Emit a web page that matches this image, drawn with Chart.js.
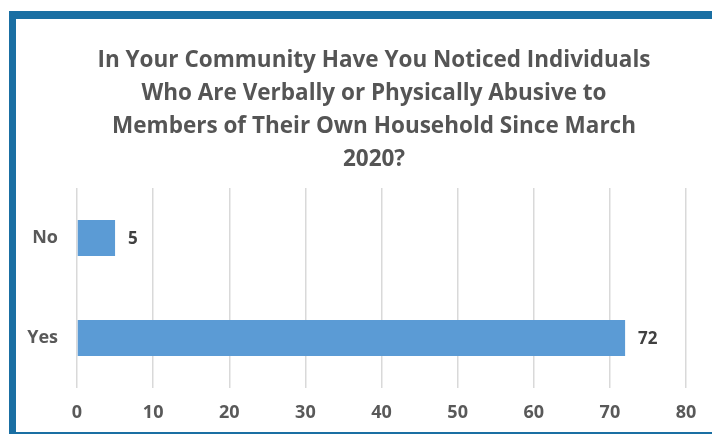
<!DOCTYPE html>
<html>
<head>
<meta charset="utf-8">
<script src="https://cdn.jsdelivr.net/npm/chart.js@4/dist/chart.umd.min.js"></script>
<style>
  html, body { margin: 0; padding: 0; background: #fff; }
  #frame {
    position: absolute; left: 9px; top: 11px; width: 710px; height: 413px;
    border-left: 7px solid #1a6fa3; border-top: 8px solid #1a6fa3; border-bottom: 2px solid #1a6fa3;
  }
  #wrap { position: absolute; left: 0; top: 0; width: 712px; height: 434px; }
</style>
</head>
<body>
<div id="frame"></div>
<div id="wrap"><canvas id="abuseChart" width="712" height="434"></canvas></div>
<script>
const categories = ["No", "Yes"];
const counts = [5, 72];
const xTicks = [0, 10, 20, 30, 40, 50, 60, 70, 80];
const titleLines = [
  "In Your Community Have You Noticed Individuals",
  "Who Are Verbally or Physically Abusive to",
  "Members of Their Own Household Since March",
  "2020?"
];

const FONT = "'Open Sans', Lato, sans-serif";

// multi-line heading, centred over the framed panel
const heading = {
  id: "heading",
  afterDraw(chart) {
    const ctx = chart.ctx;
    ctx.save();
    ctx.font = "bold 22.5px " + FONT;
    ctx.fillStyle = "#555555";
    ctx.textAlign = "center";
    ctx.textBaseline = "middle";
    titleLines.forEach((line, i) => {
      ctx.fillText(line, 374, 61 + i * 33);
    });
    ctx.restore();
  }
};

// writes the count just past the end of each bar
const valueLabels = {
  id: "valueLabels",
  afterDatasetsDraw(chart) {
    const ctx = chart.ctx;
    const meta = chart.getDatasetMeta(0);
    ctx.save();
    ctx.font = "bold 17px " + FONT;
    ctx.fillStyle = "#404040";
    ctx.textAlign = "left";
    ctx.textBaseline = "middle";
    meta.data.forEach((bar, i) => {
      ctx.fillText(String(counts[i]), bar.x + 13, bar.y + 1);
    });
    ctx.restore();
  }
};

new Chart(document.getElementById("abuseChart").getContext("2d"), {
  type: "bar",
  data: {
    labels: categories,
    datasets: [{
      data: counts,
      backgroundColor: "#5b9bd5",
      categoryPercentage: 1,
      barPercentage: 0.36
    }]
  },
  options: {
    indexAxis: "y",
    responsive: false,
    animation: false,
    layout: { padding: { left: 0, right: 26, top: 188, bottom: 0 } },
    plugins: {
      legend: { display: false },
      tooltip: { enabled: false },
      title: { display: false }
    },
    scales: {
      x: {
        min: 0,
        max: 80,
        afterBuildTicks(axis) {
          axis.ticks = xTicks.map(v => ({ value: v }));
        },
        afterFit(axis) { axis.height = 46; },
        grid: { color: "#d9d9d9", lineWidth: 1.5, drawTicks: false },
        border: { display: false },
        ticks: {
          padding: 14,
          color: "#595959",
          font: { family: FONT, size: 18, weight: "bold" }
        }
      },
      y: {
        afterFit(axis) { axis.width = 77; },
        grid: { display: false, drawTicks: false },
        border: { display: false },
        ticks: {
          padding: 19,
          color: "#595959",
          font: { family: FONT, size: 18, weight: "bold" }
        }
      }
    }
  },
  plugins: [heading, valueLabels]
});
</script>
</body>
</html>
